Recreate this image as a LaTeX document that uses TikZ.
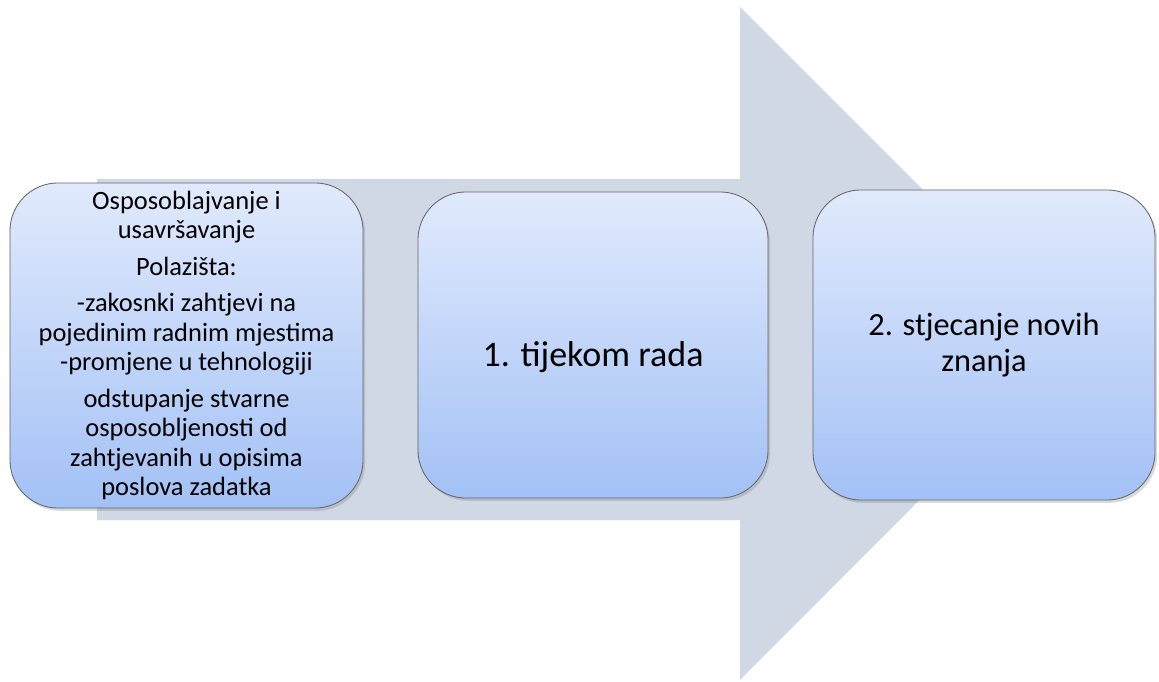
\documentclass[tikz,border=0pt]{standalone}
\usepackage{fontspec}
\setmainfont{Carlito}
\usetikzlibrary{shadows}
\definecolor{sivaplava}{HTML}{D0D8E6}
\definecolor{gornja}{HTML}{E1EAFC}
\definecolor{donja}{HTML}{A3C1F6}
\begin{document}
\begin{tikzpicture}[
  x=0.025cm, y=-0.025cm,
  every node/.style={align=center, inner sep=0pt}
]
\tikzset{
  okvir/.style={draw=black!60, line width=0.6pt, rounded corners=1.2cm,
    top color=gornja, bottom color=donja,
    drop shadow={opacity=0.3, shadow xshift=1.5pt, shadow yshift=-2pt}},
  strelica/.style={fill=sivaplava, draw=none}
}
\useasboundingbox (0,0) rectangle (1159,682);
% velika strelica u pozadini
\fill[strelica] (97,179) -- (740,179) -- (740,7) -- (1076,343)
  -- (740,680) -- (740,520) -- (97,520) -- cycle;
\node[okvir, minimum width=8.825cm, minimum height=8.125cm,
  font=\fontsize{18.8}{21}\selectfont] (polaziste) at (186.5,345.5)
  {Osposoblajvanje i\\usavršavanje\\[5pt]
   Polazišta:\\[5pt]
   -zakosnki zahtjevi na\\pojedinim radnim mjestima\\-promjene u tehnologiji\\[5pt]
   odstupanje stvarne\\osposobljenosti od\\zahtjevanih u opisima\\poslova zadatka};
\node[okvir, minimum width=8.75cm, minimum height=7.65cm, text height=37pt, text depth=6pt,
  font=\fontsize{25.6}{30}\selectfont] (rad) at (593,345) {1. tijekom rada};
\node[okvir, minimum width=8.55cm, minimum height=7.75cm,
  font=\fontsize{23}{25}\selectfont] (znanje) at (984,345)
  {2. stjecanje novih\\znanja};
\end{tikzpicture}
\end{document}
